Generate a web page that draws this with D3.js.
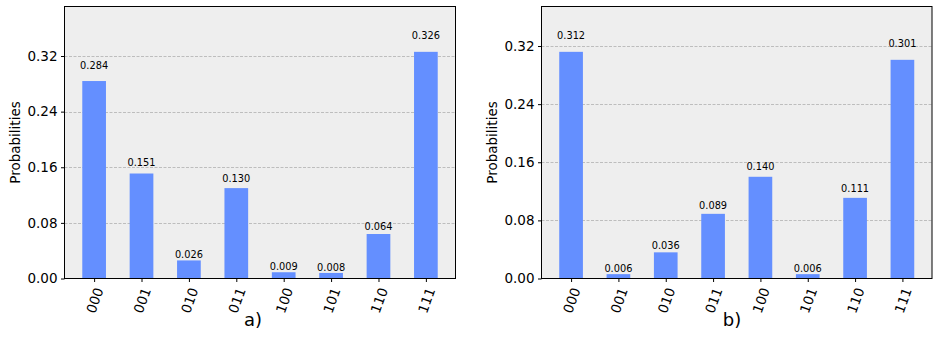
<!DOCTYPE html>
<html>
<head>
<meta charset="utf-8">
<script src="https://cdn.jsdelivr.net/npm/d3@7"></script>
<style>
  body { margin: 0; background: #fff; }
  svg { display: block; font-family: "DejaVu Sans", sans-serif; }
</style>
</head>
<body>
<div id="app"></div>
<script>
const states = ['000', '001', '010', '011', '100', '101', '110', '111'];
const probsA = [0.284, 0.151, 0.026, 0.130, 0.009, 0.008, 0.064, 0.326];
const probsB = [0.312, 0.006, 0.036, 0.089, 0.140, 0.006, 0.111, 0.301];
const yTicks = [0, 0.08, 0.16, 0.24, 0.32];
const panelNames = ['a)', 'b)'];

(() => {
  const W = 945;
  const H = 342;
  const barColor = '#648fff';
  const bgColor = '#eeeeee';

  const svg = d3.select('#app')
    .append('svg')
    .attr('width', W)
    .attr('height', H);

  // axes frames for each panel (left, right, top, bottom)
  const panels = [
    { values: probsA, x0: 64.5, x1: 455.5, y0: 6.5, y1: 278.5, labelX: 15, nameX: 253 },
    { values: probsB, x0: 541.5, x1: 932, y0: 6.5, y1: 278.5, labelX: 492, nameX: 732 }
  ];

  panels.forEach((p, k) => {
    const g = svg.append('g');
    const maxV = d3.max(p.values);

    // matplotlib style: bar width 0.5, 5% margins -> -0.625 .. 7.625
    const x = d3.scaleLinear()
      .domain([-0.625, states.length - 1 + 0.625])
      .range([p.x0, p.x1]);
    const y = d3.scaleLinear()
      .domain([0, maxV * 1.2])
      .range([p.y1, p.y0]);

    g.append('rect')
      .attr('x', p.x0)
      .attr('y', p.y0)
      .attr('width', p.x1 - p.x0)
      .attr('height', p.y1 - p.y0)
      .style('fill', bgColor);

    // dashed grid lines
    g.selectAll('.grid')
      .data(yTicks.slice(1))
      .enter()
      .append('line')
      .attr('x1', p.x0)
      .attr('x2', p.x1)
      .attr('y1', d => Math.round(y(d)) + 0.5)
      .attr('y2', d => Math.round(y(d)) + 0.5)
      .style('stroke', '#b0b0b0')
      .style('stroke-width', 0.8)
      .style('stroke-dasharray', '3,1.5');

    // bars
    g.selectAll('.bar')
      .data(p.values)
      .enter()
      .append('rect')
      .attr('x', (d, i) => x(i - 0.25))
      .attr('y', d => y(d))
      .attr('width', x(0.5) - x(0))
      .attr('height', d => p.y1 - y(d))
      .style('fill', barColor);

    // value labels above bars (1.05 * height, va bottom)
    g.selectAll('.val')
      .data(p.values)
      .enter()
      .append('text')
      .text(d => d.toFixed(3))
      .attr('x', (d, i) => x(i))
      .attr('y', d => y(d * 1.05) - 2)
      .attr('font-size', '9.8px')
      .style('fill', '#000')
      .style('text-anchor', 'middle');

    // y axis
    const yAxis = g.append('g')
      .attr('transform', `translate(${p.x0},0)`)
      .call(d3.axisLeft(y).tickValues(yTicks).tickFormat(d3.format('.2f'))
        .tickSize(3.5).tickPadding(3.5));
    yAxis.select('.domain').remove();
    yAxis.selectAll('text').attr('font-size', '13.5px').style('fill', '#000')
      .attr('font-family', '"DejaVu Sans", sans-serif');

    // x axis
    const xAxis = g.append('g')
      .attr('transform', `translate(0,${p.y1})`)
      .call(d3.axisBottom(x).tickValues(d3.range(states.length))
        .tickFormat(i => states[i]).tickSize(3.5));
    xAxis.select('.domain').remove();
    xAxis.selectAll('text')
      .attr('font-size', '13.5px')
      .attr('font-family', '"DejaVu Sans", sans-serif')
      .style('fill', '#000')
      .attr('dy', null)
      .attr('y', 0)
      .style('text-anchor', 'middle')
      .style('dominant-baseline', 'central')
      .each(function () {
        const bb = this.getBBox();
        const a = 70 * Math.PI / 180;
        const hh = (bb.width * Math.sin(a) + bb.height * Math.cos(a)) / 2;
        d3.select(this).attr('transform', `translate(0,${7 + hh}) rotate(-70)`);
      });

    // frame
    g.append('rect')
      .attr('x', p.x0)
      .attr('y', p.y0)
      .attr('width', p.x1 - p.x0)
      .attr('height', p.y1 - p.y0)
      .style('fill', 'none')
      .style('stroke', '#000')
      .style('stroke-width', 1);

    // y label
    g.append('text')
      .text('Probabilities')
      .attr('transform', `translate(${p.labelX},${(p.y0 + p.y1) / 2}) rotate(-90)`)
      .attr('font-size', '13.5px')
      .style('text-anchor', 'middle')
      .style('dominant-baseline', 'central');

    // panel name
    g.append('text')
      .text(panelNames[k])
      .attr('x', p.nameX)
      .attr('y', 326)
      .attr('font-size', '18px')
      .style('text-anchor', 'middle');
  });
})();
</script>
</body>
</html>
